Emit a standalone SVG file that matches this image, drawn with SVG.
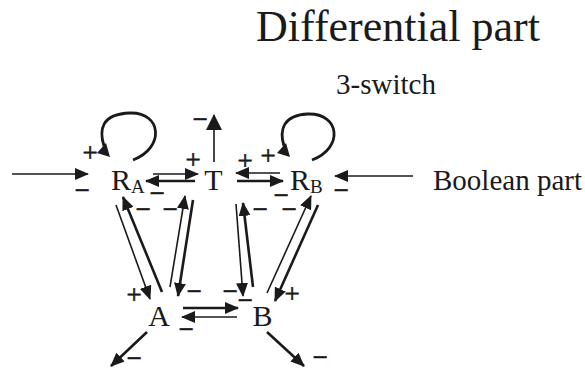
<svg xmlns="http://www.w3.org/2000/svg" width="585" height="370" viewBox="0 0 585 370">
<style>
.n{font-size:30px}
.sub{font-size:19px}
.s{font-size:27px;text-anchor:middle;stroke:#1a1a1a;stroke-width:0.6}
.t{stroke:#1a1a1a;fill:none;stroke-width:1.6}
.k{stroke:#1a1a1a;fill:none;stroke-width:2.6}
.lp{stroke:#1a1a1a;fill:none;stroke-width:2.8}
</style>
<defs>
<marker id="ah" viewBox="0 0 14 12" refX="13" refY="6" markerWidth="14" markerHeight="12" orient="auto" markerUnits="userSpaceOnUse"><path d="M0,0 L14,6 L0,12 z" fill="#1a1a1a"/></marker>
<marker id="big" viewBox="0 0 16 16" refX="15" refY="8" markerWidth="16" markerHeight="16" orient="auto" markerUnits="userSpaceOnUse"><path d="M0,0 L16,8 L0,16 z" fill="#1a1a1a"/></marker>
</defs>
<g font-family="Liberation Serif, DejaVu Serif, serif" fill="#1a1a1a">
<text x="398" y="41" font-size="44" text-anchor="middle">Differential part</text>
<text x="386" y="94" font-size="29" text-anchor="middle">3-switch</text>
<text x="433" y="190" font-size="29">Boolean part</text>

<g id="RA"><text x="111" y="190" class="n">R<tspan class="sub" dy="3">A</tspan></text></g>
<g id="T"><text x="213.5" y="190" class="n" text-anchor="middle">T</text></g>
<g id="RB"><text x="290" y="190" class="n">R<tspan class="sub" dy="3">B</tspan></text></g>
<g id="A"><text x="159" y="326" class="n" text-anchor="middle">A</text></g>
<g id="B"><text x="262.5" y="326" class="n" text-anchor="middle">B</text></g>

<g id="signs">
<text class="s" x="90" y="162">+</text>
<text class="s" x="82" y="199">−</text>
<text class="s" x="200" y="128">−</text>
<text class="s" x="193" y="169">+</text>
<text class="s" x="157" y="202">−</text>
<text class="s" x="245" y="170">+</text>
<text class="s" x="268" y="165">+</text>
<text class="s" x="281" y="204">−</text>
<text class="s" x="341" y="199">−</text>
<text class="s" x="143" y="218">−</text>
<text class="s" x="170" y="218">−</text>
<text class="s" x="260" y="218">−</text>
<text class="s" x="289" y="218">−</text>
<text class="s" x="134" y="304">+</text>
<text class="s" x="194" y="300">−</text>
<text class="s" x="230" y="300">−</text>
<text class="s" x="245" y="309">−</text>
<text class="s" x="292" y="303">+</text>
<text class="s" x="186" y="338">−</text>
<text class="s" x="134" y="367">−</text>
<text class="s" x="320" y="366">−</text>
</g>
</g>

<g id="connectors">
<line class="t" x1="12" y1="174" x2="88" y2="174" marker-end="url(#ah)"/>
<line class="t" x1="413" y1="176" x2="335" y2="176" marker-end="url(#ah)"/>
<path class="lp" d="M133,160 C165,148 162,112 130,113 C101,114 99,130 104,146"/>
<path d="M97,153 L106,143 L110,157 z" fill="#1a1a1a"/>
<path class="lp" d="M312,160 C344,148 340,113 308,114 C283,115 279,130 284,146"/>
<path d="M277,153 L286,143 L290,157 z" fill="#1a1a1a"/>
<line class="t" x1="214" y1="162" x2="214" y2="115" marker-end="url(#big)"/>
<line class="t" x1="153" y1="174" x2="198" y2="174" marker-end="url(#ah)"/>
<line class="k" x1="195" y1="181" x2="146" y2="181" marker-end="url(#ah)"/>
<line class="t" x1="280" y1="173" x2="236" y2="173" marker-end="url(#ah)"/>
<line class="k" x1="237" y1="181" x2="283" y2="181" marker-end="url(#ah)"/>
<line class="t" x1="116" y1="205" x2="150" y2="299" marker-end="url(#ah)"/>
<line class="k" x1="162" y1="292" x2="123" y2="197" marker-end="url(#ah)"/>
<line class="t" x1="170" y1="287" x2="185" y2="196" marker-end="url(#ah)"/>
<line class="k" x1="193" y1="200" x2="178" y2="296" marker-end="url(#ah)"/>
<line class="t" x1="236" y1="204" x2="243" y2="296" marker-end="url(#ah)"/>
<line class="k" x1="253" y1="287" x2="243" y2="203" marker-end="url(#ah)"/>
<line class="t" x1="267" y1="293" x2="311" y2="196" marker-end="url(#ah)"/>
<line class="k" x1="318" y1="205" x2="275" y2="301" marker-end="url(#ah)"/>
<line class="k" x1="183" y1="308" x2="238" y2="308" marker-end="url(#ah)"/>
<line class="t" x1="237" y1="317" x2="182" y2="317" marker-end="url(#ah)"/>
<line class="k" x1="147" y1="332" x2="111" y2="366" marker-end="url(#ah)"/>
<line class="k" x1="267" y1="332" x2="304" y2="366" marker-end="url(#ah)"/>
</g>
</svg>
